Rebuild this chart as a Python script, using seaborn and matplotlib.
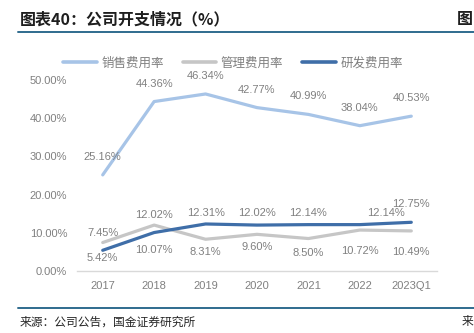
import matplotlib
matplotlib.use("Agg")
import matplotlib.pyplot as plt
from matplotlib.lines import Line2D
import numpy as np
import pandas as pd
import seaborn as sns

# ---- data -------------------------------------------------------------
years = ["2017", "2018", "2019", "2020", "2021", "2022", "2023Q1"]
series_names = ["销售费用率", "管理费用率", "研发费用率"]
sales_rate = [25.16, 44.36, 46.34, 42.77, 40.99, 38.04, 40.53]
admin_rate = [7.45, 12.02, 8.31, 9.60, 8.50, 10.72, 10.49]
rd_rate = [5.42, 10.07, 12.31, 12.02, 12.14, 12.14, 12.75]
y_ticks = [0, 10, 20, 30, 40, 50]

title_text = "图表40：公司开支情况（%）"
source_text = "来源：公司公告，国金证券研究所"

# ---- style ------------------------------------------------------------
sns.set_theme(style="white")
plt.rcParams["font.family"] = ["Liberation Sans", "Noto Sans CJK SC", "DejaVu Sans"]
CJK = ["Noto Sans CJK SC", "DejaVu Sans"]

colors = {"销售费用率": "#a7c4e7", "管理费用率": "#c6c6c6", "研发费用率": "#3f6ea8"}
label_color = "#808080"
rule_color = "#2f6b8e"

# label offsets in pixels (dx, dy) relative to each point
sales_off = [(0, 18)] * 7
admin_off = [(0, 10), (0, 10), (0, -13), (0, -13), (0, -14), (0, -21), (0, -21)]
rd_off = [(0, -8), (0, -17), (0, 11), (0, 12), (0, 12), (26, 12), (0, 18)]

# ---- frame ------------------------------------------------------------
W, H = 474, 333
fig = plt.figure(figsize=(W / 100, H / 100), dpi=100)
fig.patch.set_facecolor("white")
ax = fig.add_axes([77 / W, (H - 271) / H, 360 / W, 191 / H])

df = pd.DataFrame({
    "pos": np.tile(np.arange(len(years)), 3),
    "value": sales_rate + admin_rate + rd_rate,
    "series": np.repeat(series_names, len(years)),
})

sns.lineplot(data=df, x="pos", y="value", hue="series", hue_order=series_names,
             palette=colors, linewidth=2.3, sort=False, legend=False, ax=ax)
for ln in ax.lines:
    ln.set_solid_capstyle("round")
    ln.set_solid_joinstyle("round")

ax.set_xlim(-0.5, len(years) - 0.5)
ax.set_ylim(0, 50)
ax.set_xticks(range(len(years)))
ax.set_xticklabels(years)
ax.set_yticks(y_ticks)
ax.set_yticklabels([f"{v:.2f}%" for v in y_ticks])
ax.set_xlabel("")
ax.set_ylabel("")
ax.tick_params(axis="both", length=0, labelsize=8, labelcolor=label_color)
ax.tick_params(axis="y", pad=7)
ax.tick_params(axis="x", pad=7)
ax.grid(False)
for side in ["top", "right", "left"]:
    ax.spines[side].set_visible(False)
ax.spines["bottom"].set_color("#d9d9d9")
ax.spines["bottom"].set_linewidth(1.0)

# ---- data labels ------------------------------------------------------
for vals, offs in [(sales_rate, sales_off), (admin_rate, admin_off), (rd_rate, rd_off)]:
    for i, (v, (dx, dy)) in enumerate(zip(vals, offs)):
        ax.annotate(f"{v:.2f}%", xy=(i, v), xytext=(dx, dy), textcoords="offset pixels",
                    ha="center", va="center", fontsize=8, color=label_color,
                    annotation_clip=False)

# ---- legend -----------------------------------------------------------
handles = [Line2D([], [], color=colors[s], linewidth=2.6) for s in series_names]
leg = fig.legend(handles, series_names, loc="center", bbox_to_anchor=(233 / W, 1 - 63 / H),
                 ncol=3, frameon=False, handlelength=2.7, handletextpad=0.35,
                 columnspacing=1.5, prop={"family": CJK, "size": 9})
for t in leg.get_texts():
    t.set_color(label_color)

# ---- header / footer --------------------------------------------------
fig.text(20 / W, 1 - 19 / H, title_text, family=CJK, fontsize=11.5, fontweight="bold",
         color="#1e1e1e", ha="left", va="center")
fig.text(473 / W, 1 - 19 / H, "图", family=CJK, fontsize=11.5, fontweight="bold",
         color="#1e1e1e", ha="right", va="center")
fig.add_artist(Line2D([18 / W, 1], [1 - 32 / H, 1 - 32 / H], color=rule_color,
                      linewidth=1.4, transform=fig.transFigure))
fig.add_artist(Line2D([18 / W, 1], [1 - 308 / H, 1 - 308 / H], color=rule_color,
                      linewidth=1.4, transform=fig.transFigure))
fig.text(20 / W, 1 - 322 / H, source_text, family=CJK, fontsize=8.5,
         color="#262626", ha="left", va="center")
fig.text(473 / W, 1 - 322 / H, "来", family=CJK, fontsize=8.5,
         color="#262626", ha="right", va="center")

fig.savefig("out.png", dpi=100, facecolor="white")
